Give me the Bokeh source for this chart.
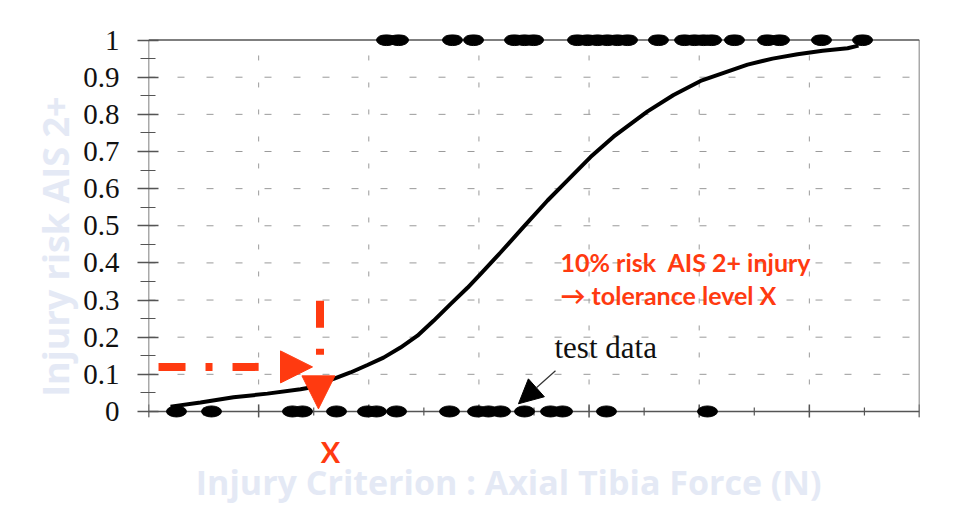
from bokeh.plotting import figure
from bokeh.models import Range1d, FixedTicker, Label, Arrow, NormalHead
from bokeh.embed import file_html
from bokeh.resources import INLINE

# ---------------- data ----------------
# test data: injured (AIS 2+ = 1) and uninjured (0) cases, axial tibia force (N)
injured_force = [2161, 2270, 2760, 2951, 3323, 3414, 3496, 3895, 3986, 4077, 4167,
                 4258, 4349, 4630, 4867, 4957, 5039, 5112, 5320, 5620, 5729, 6110, 6483]
injured_value = [1] * len(injured_force)
uninjured_force = [254, 572, 1307, 1398, 1707, 1988, 2070, 2252, 2733, 2987, 3087,
                   3196, 3414, 3650, 3759, 4158, 5075]
uninjured_value = [0] * len(uninjured_force)

# fitted risk curve
curve_force = [200, 472, 772, 1080, 1380, 1534, 1680, 1834, 1988, 2134, 2288, 2442,
               2588, 2742, 2896, 3014, 3196, 3405, 3623, 3804, 4013, 4222, 4531,
               4767, 5012, 5439, 5666, 5893, 6120, 6347, 6446]
curve_risk = [0.013, 0.024, 0.038, 0.048, 0.060, 0.068, 0.088, 0.105, 0.125, 0.145,
              0.172, 0.204, 0.244, 0.289, 0.333, 0.370, 0.428, 0.497, 0.568, 0.622,
              0.685, 0.740, 0.808, 0.852, 0.890, 0.934, 0.950, 0.962, 0.971, 0.978, 0.985]

y_ticks = [0, 0.1, 0.2, 0.3, 0.4, 0.5, 0.6, 0.7, 0.8, 0.9, 1]
y_tick_labels = ["0", "0.1", "0.2", "0.3", "0.4", "0.5", "0.6", "0.7", "0.8", "0.9", "1"]
y_minor = [0.05, 0.15, 0.25, 0.35, 0.45, 0.55, 0.65, 0.75, 0.85, 0.95]
x_ticks = [0, 1000, 2000, 3000, 4000, 5000, 6000, 7000]
x_minor = [500, 1500, 2500, 3500, 4500, 5500, 6500]

# annotation: 10% risk -> tolerance level X
risk_level = [0.12]
risk_line_x = [91, 1000]
risk_head_x = [1400, 1489]
tol_x = [1557]
tol_line_y = [0.298, 0.153]
tol_head_x = [1543]
tol_head_y = [0.05, 0.007]
test_arrow = dict(x_start=3695, y_start=0.1096, x_end=3359, y_end=0.0207)

title_x = "Injury Criterion : Axial Tibia Force (N)"
title_y = "Injury risk AIS 2+"
note_1 = "10% risk\u00a0 AIS 2+ injury"
note_2 = "\u2192 tolerance level X"
note_test = "test data"
note_X = "X"

RED = "#ff3a10"
FAINT = "#e4e9f5"
AXIS = "#555555"
GRID = "#9a9a9a"

# tick lengths in data units of y (about 371 px per unit)
MAJ_UP, MAJ_DN, MIN_UP, MIN_DN = 0.019, 0.016, 0.011, 0.011

p = figure(width=955, height=505, x_range=Range1d(0, 7000), y_range=Range1d(-0.2532, 1.015),
           x_axis_location=None, output_backend="svg", toolbar_location=None,
           min_border_left=148, min_border_right=36, min_border_top=34, min_border_bottom=0,
           background_fill_color="white", border_fill_color="white")
p.outline_line_color = None
p.grid.visible = False

# grids (dashed)
p.segment(x0=x_ticks[1:-1], y0=[0] * 6, x1=x_ticks[1:-1], y1=[1] * 6,
          line_color=GRID, line_width=1, line_dash="5 22")
p.segment(x0=[0] * 9, y0=y_ticks[1:-1], x1=[7000] * 9, y1=y_ticks[1:-1],
          line_color=GRID, line_width=1, line_dash="7 22")

# y axis
ya = p.yaxis[0]
ya.ticker = FixedTicker(ticks=y_ticks, minor_ticks=y_minor)
ya.major_label_overrides = dict(zip(y_ticks, y_tick_labels))
ya.axis_line_color = None
ya.major_tick_line_color = AXIS
ya.minor_tick_line_color = AXIS
ya.major_tick_line_width = 1.5
ya.minor_tick_line_width = 1.2
ya.major_tick_in = 10
ya.major_tick_out = 11
ya.minor_tick_in = 7
ya.minor_tick_out = 8
ya.major_label_text_font = "Liberation Serif"
ya.major_label_text_font_size = "29px"
ya.major_label_text_color = "#111111"
ya.major_label_standoff = 18
ya.axis_label = "\u00a0" * 5 + title_y
ya.axis_label_text_font = "Open Sans"
ya.axis_label_text_font_style = "bold"
ya.axis_label_text_font_size = "36px"
ya.axis_label_text_color = FAINT
ya.axis_label_standoff = 0

# frame lines
p.segment(x0=[0], y0=[-0.015], x1=[0], y1=[1], line_color=AXIS, line_width=1.5)
p.segment(x0=[7000], y0=[-0.015], x1=[7000], y1=[1], line_color=AXIS, line_width=1.5)
p.segment(x0=[0, 0], y0=[0, 1], x1=[7000, 7000], y1=[0, 1], line_color=AXIS, line_width=1.5)

# x ticks crossing the y=0 line
p.segment(x0=x_ticks, y0=[-MAJ_DN] * len(x_ticks), x1=x_ticks, y1=[MAJ_UP] * len(x_ticks),
          line_color=AXIS, line_width=1.5)
p.segment(x0=x_minor, y0=[-MIN_DN] * len(x_minor), x1=x_minor, y1=[MIN_UP] * len(x_minor),
          line_color=AXIS, line_width=1.2)

# curve and data
p.line(curve_force, curve_risk, line_color="black", line_width=4)
p.ellipse(injured_force, injured_value, width=20, height=11, width_units="screen",
          height_units="screen", fill_color="black", line_color="black")
p.ellipse(uninjured_force, uninjured_value, width=20, height=11, width_units="screen",
          height_units="screen", fill_color="black", line_color="black")

# red dash-dot arrows
p.line(risk_line_x, risk_level * 2, line_color=RED, line_width=8, line_dash="27 20 7 20")
p.add_layout(Arrow(end=NormalHead(size=32, fill_color=RED, line_color=RED),
                   x_start=risk_head_x[0], y_start=risk_level[0],
                   x_end=risk_head_x[1], y_end=risk_level[0], line_alpha=0))
p.line(tol_x * 2, tol_line_y, line_color=RED, line_width=8, line_dash="27 21 6 20")
p.add_layout(Arrow(end=NormalHead(size=33, fill_color=RED, line_color=RED),
                   x_start=tol_head_x[0], y_start=tol_head_y[0],
                   x_end=tol_head_x[0], y_end=tol_head_y[1], line_alpha=0))

# test data arrow
p.add_layout(Arrow(end=NormalHead(size=24, fill_color="black", line_color="black"),
                   line_color="#333333", line_width=1.2, **test_arrow))

# texts
p.add_layout(Label(x=3741, y=0.4036, text=note_1, text_font="Lato", text_font_style="bold",
                   text_font_size="25px", text_color=RED, text_baseline="alphabetic"))
p.add_layout(Label(x=3741, y=0.3142, text=note_2, text_font="Lato", text_font_style="bold",
                   text_font_size="25px", text_color=RED, text_baseline="alphabetic"))
p.add_layout(Label(x=3686, y=0.1715, text=note_test, text_font="Liberation Serif",
                   text_font_size="31px", text_color="#111111", text_baseline="alphabetic"))
p.add_layout(Label(x=1652, y=-0.107, text=note_X, text_font="Lato", text_font_style="bold",
                   text_font_size="29px", text_color=RED, text_baseline="alphabetic",
                   text_align="center"))
p.add_layout(Label(x=430, y=-0.190, text=title_x, text_font="Open Sans",
                   text_font_style="bold", text_font_size="34px", text_color=FAINT,
                   text_baseline="alphabetic"))

open("out.html", "w").write(file_html(p, INLINE))
